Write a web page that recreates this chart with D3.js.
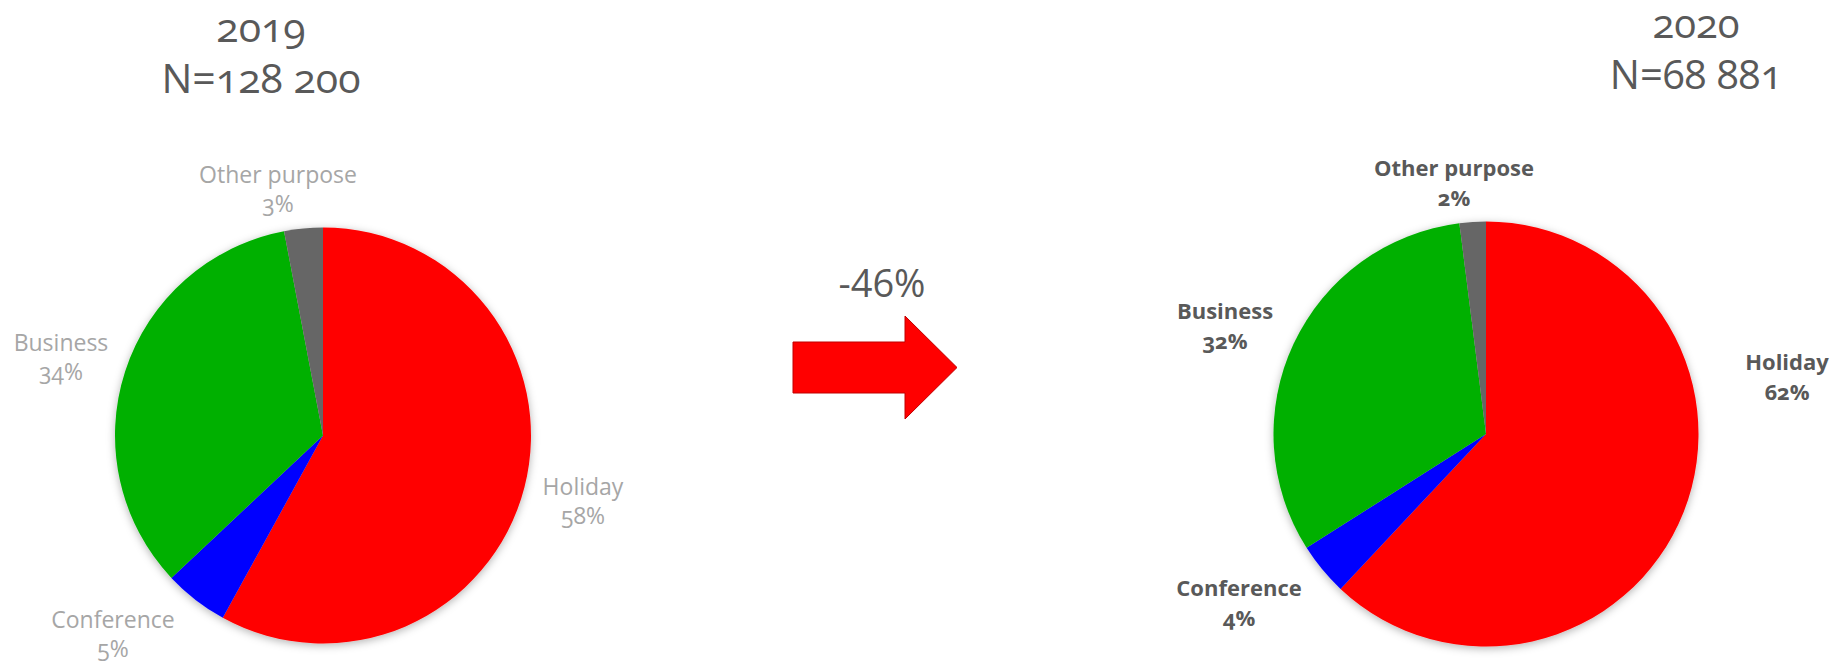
<!DOCTYPE html>
<html>
<head>
<meta charset="utf-8">
<script src="https://cdn.jsdelivr.net/npm/d3@7"></script>
<style>
  body { margin: 0; background: #fff; }
  text { font-family: "Open Sans", sans-serif; font-variant-numeric: oldstyle-nums; }
</style>
</head>
<body>
<svg width="1834" height="663"></svg>
<script>
const categories = ['Holiday', 'Conference', 'Business', 'Other purpose']
const values2019 = [58, 5, 34, 3]
const values2020 = [62, 4, 32, 2]
const years = ['2019', '2020']
const totals = ['N=128 200', 'N=68 881']
const change = '-46%'

const svg = d3.select('svg')

const color = d3.scaleOrdinal()
    .domain(categories)
    .range(['#FF0000', '#0000FF', '#00B000', '#666666'])

// where each pie sits, and where Excel dropped its labels (offset from centre)
const pies = [
    {
        values: values2019, year: years[0], total: totals[0],
        cx: 323, cy: 435.5, r: 208,
        titleX: 261, titleY: 42, titleSize: 41,
        labelFill: '#A6A6A6', labelWeight: 400, labelSize: 23,
        labelPos: [[260, 59], [-210, 192], [-262, -85], [-45, -253]]
    },
    {
        values: values2020, year: years[1], total: totals[1],
        cx: 1486, cy: 434, r: 212.5,
        titleX: 1696, titleY: 38, titleSize: 40,
        labelFill: '#595959', labelWeight: 700, labelSize: 22,
        labelPos: [[301, -64], [-247, 162], [-261, -115], [-32, -258]]
    }
]

const defs = svg.append('defs')
const shadow = defs.append('filter')
    .attr('id', 'shadow')
    .attr('x', '-20%').attr('y', '-20%')
    .attr('width', '140%').attr('height', '140%')
shadow.append('feDropShadow')
    .attr('dx', 0).attr('dy', 2)
    .attr('stdDeviation', 4)
    .attr('flood-color', '#000')
    .attr('flood-opacity', 0.3)

const pie = d3.pie().sort(null)

pies.forEach(p => {
    const g = svg.append('g')
        .attr('transform', `translate(${p.cx},${p.cy})`)

    const arc = d3.arc().innerRadius(0).outerRadius(p.r)

    g.append('g')
        .attr('filter', 'url(#shadow)')
        .selectAll('path')
        .data(pie(p.values))
        .enter()
        .append('path')
        .attr('d', arc)
        .attr('fill', (d, i) => color(categories[i]))

    const labels = g.selectAll('text.label')
        .data(p.values)
        .enter()
        .append('text')
        .attr('class', 'label')
        .attr('text-anchor', 'middle')
        .attr('font-size', p.labelSize)
        .attr('font-weight', p.labelWeight)
        .attr('fill', p.labelFill)
        .attr('transform', (d, i) => `translate(${p.labelPos[i][0]},${p.labelPos[i][1]})`)
    labels.append('tspan')
        .attr('x', 0)
        .text((d, i) => categories[i])
    labels.append('tspan')
        .attr('x', 0).attr('dy', 29.5)
        .text(d => d + '%')

    const title = svg.append('text')
        .attr('text-anchor', 'middle')
        .attr('font-size', p.titleSize)
        .attr('fill', '#595959')
        .attr('transform', `translate(${p.titleX},${p.titleY})`)
    title.append('tspan').attr('x', 0).text(p.year)
    title.append('tspan').attr('x', 0).attr('dy', 51).text(p.total)
})

// change arrow between the two pies
const arrow = { x0: 793, x1: 905, x2: 957, yMid: 367.5, shaft: 25.5, head: 51.5 }
svg.append('path')
    .attr('d', d3.line()([
        [arrow.x0, arrow.yMid - arrow.shaft],
        [arrow.x1, arrow.yMid - arrow.shaft],
        [arrow.x1, arrow.yMid - arrow.head],
        [arrow.x2, arrow.yMid],
        [arrow.x1, arrow.yMid + arrow.head],
        [arrow.x1, arrow.yMid + arrow.shaft],
        [arrow.x0, arrow.yMid + arrow.shaft]
    ]) + 'Z')
    .attr('fill', '#FF0000')
    .attr('stroke', '#C00000')
    .attr('stroke-width', 1)

svg.append('text')
    .attr('x', 882).attr('y', 297)
    .attr('text-anchor', 'middle')
    .attr('font-size', 38)
    .attr('fill', '#595959')
    .style('font-variant-numeric', 'lining-nums')
    .text(change)
</script>
</body>
</html>
